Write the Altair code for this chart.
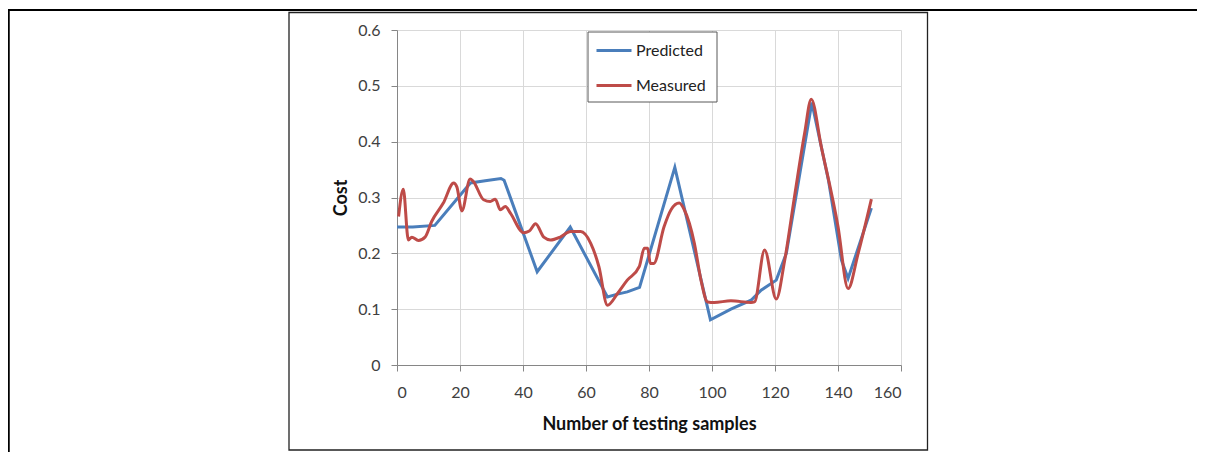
import altair as alt
import pandas as pd

# Predicted (blue)
pred_x = [0, 5, 12, 23.3, 28, 33, 34, 44.5, 55, 66.8, 70, 73.1, 77, 88.2, 99.5, 106, 112.4,
          115.6, 120.4, 123.6, 131.7, 137, 141.1, 143.2, 150.6]
pred_y = [0.247, 0.247, 0.25, 0.326, 0.33, 0.334, 0.331, 0.167, 0.247, 0.122, 0.127, 0.131, 0.139,
          0.354, 0.081, 0.1, 0.116, 0.134, 0.152, 0.2, 0.47, 0.33, 0.188, 0.155, 0.281]

# Measured (red)
meas_x = [0.5, 2, 3.6, 4.7, 6.8, 8.9, 11, 14.7, 18, 19,
          20.6, 23.2, 24.2, 27.5, 29.6, 31.2, 32.8, 34.4, 36, 40.2,
          42, 44, 46.6, 48.7, 51.8, 55.1, 58.3, 61.5, 64.1, 66.8,
          70, 73.1, 76.9, 78.5, 79.6, 80.4, 81.5, 84.8, 87, 89.6,
          91.2, 94.4, 96.5, 98.6, 100.7, 106, 112.4, 113.5, 116.7, 120.4,
          123, 126.2, 129.4, 131.5, 134.7, 140, 143.2, 146.4, 150.6]
meas_y = [0.266, 0.315, 0.224, 0.229, 0.223, 0.229, 0.257, 0.29, 0.326, 0.319,
          0.276, 0.333, 0.329, 0.296, 0.293, 0.297, 0.278, 0.284, 0.272, 0.237,
          0.24, 0.253, 0.229, 0.224, 0.229, 0.239, 0.239, 0.218, 0.176, 0.107,
          0.128, 0.152, 0.176, 0.209, 0.209, 0.182, 0.182, 0.248, 0.278, 0.29,
          0.278, 0.218, 0.152, 0.113, 0.112, 0.115, 0.112, 0.113, 0.206, 0.118,
          0.185, 0.302, 0.415, 0.476, 0.391, 0.248, 0.137, 0.2, 0.297]

series = ["Predicted", "Measured"]
colors = ["#4A7EBB", "#BE4B48"]
x_ticks = [0, 20, 40, 60, 80, 100, 120, 140, 160]
y_ticks = [0, 0.1, 0.2, 0.3, 0.4, 0.5, 0.6]

pred_df = pd.DataFrame({"x": pred_x, "y": pred_y, "s": series[0]})
meas_df = pd.DataFrame({"x": meas_x, "y": meas_y, "s": series[1]})

color = alt.Color(
    "s:N",
    scale=alt.Scale(domain=series, range=colors),
    sort=series,
    legend=alt.Legend(title=None, orient="none", legendX=198, legendY=1.5),
)
xenc = alt.X("x:Q", scale=alt.Scale(domain=[0, 160], nice=False),
             axis=alt.Axis(values=x_ticks, title="Number of testing samples",
                           labelPadding=13, titlePadding=15))
yenc = alt.Y("y:Q", scale=alt.Scale(domain=[0, 0.6], nice=False),
             axis=alt.Axis(values=y_ticks, format=".1~f", title="Cost",
                           labelPadding=11, titlePadding=7))

blue = alt.Chart(pred_df).mark_line(strokeWidth=3, interpolate="linear").encode(
    x=xenc, y=yenc, color=color)
red = alt.Chart(meas_df).mark_line(strokeWidth=3, interpolate="monotone").encode(
    x=xenc, y=yenc, color=color)

one = pd.DataFrame({"a": [0]})
top_line = alt.Chart(one).mark_rule(color="black", strokeWidth=2).encode(
    x=alt.value(-392), x2=alt.value(810), y=alt.value(-20))
left_line = alt.Chart(one).mark_rule(color="black", strokeWidth=2.5).encode(
    x=alt.value(-388.5), y=alt.value(-21), y2=alt.value(440))
box = alt.Chart(one).mark_rect(fillOpacity=0, stroke="#222222", strokeWidth=1.3).encode(
    x=alt.value(-108), x2=alt.value(530.5), y=alt.value(-17.5), y2=alt.value(420))
legend_box = alt.Chart(one).mark_rect(fill="white", stroke="#595959", strokeWidth=1).encode(
    x=alt.value(191), x2=alt.value(320), y=alt.value(2), y2=alt.value(72))

chart = alt.layer(top_line, left_line, box, legend_box, blue, red).properties(
    width=504, height=335,
    autosize=alt.AutoSizeParams(type="none"),
    padding={"left": 389, "top": 22, "right": 296, "bottom": 87},
).configure_view(strokeWidth=0).configure_axis(
    gridColor="#D9D9D9", domainColor="#868686", tickColor="#868686", tickSize=6,
    labelFont="Lato", labelFontSize=16, labelColor="#404040",
    titleFont="Lato", titleFontSize=18, titleFontWeight="bold", titleColor="#111111",
).configure_legend(
    padding=0, symbolType="stroke",
    symbolStrokeWidth=3, symbolSize=1225, labelFont="Lato", labelFontSize=16,
    labelColor="#222222", rowPadding=8, labelOffset=3,
)

chart.save("out.html", embed_options={"renderer": "svg", "actions": False})
